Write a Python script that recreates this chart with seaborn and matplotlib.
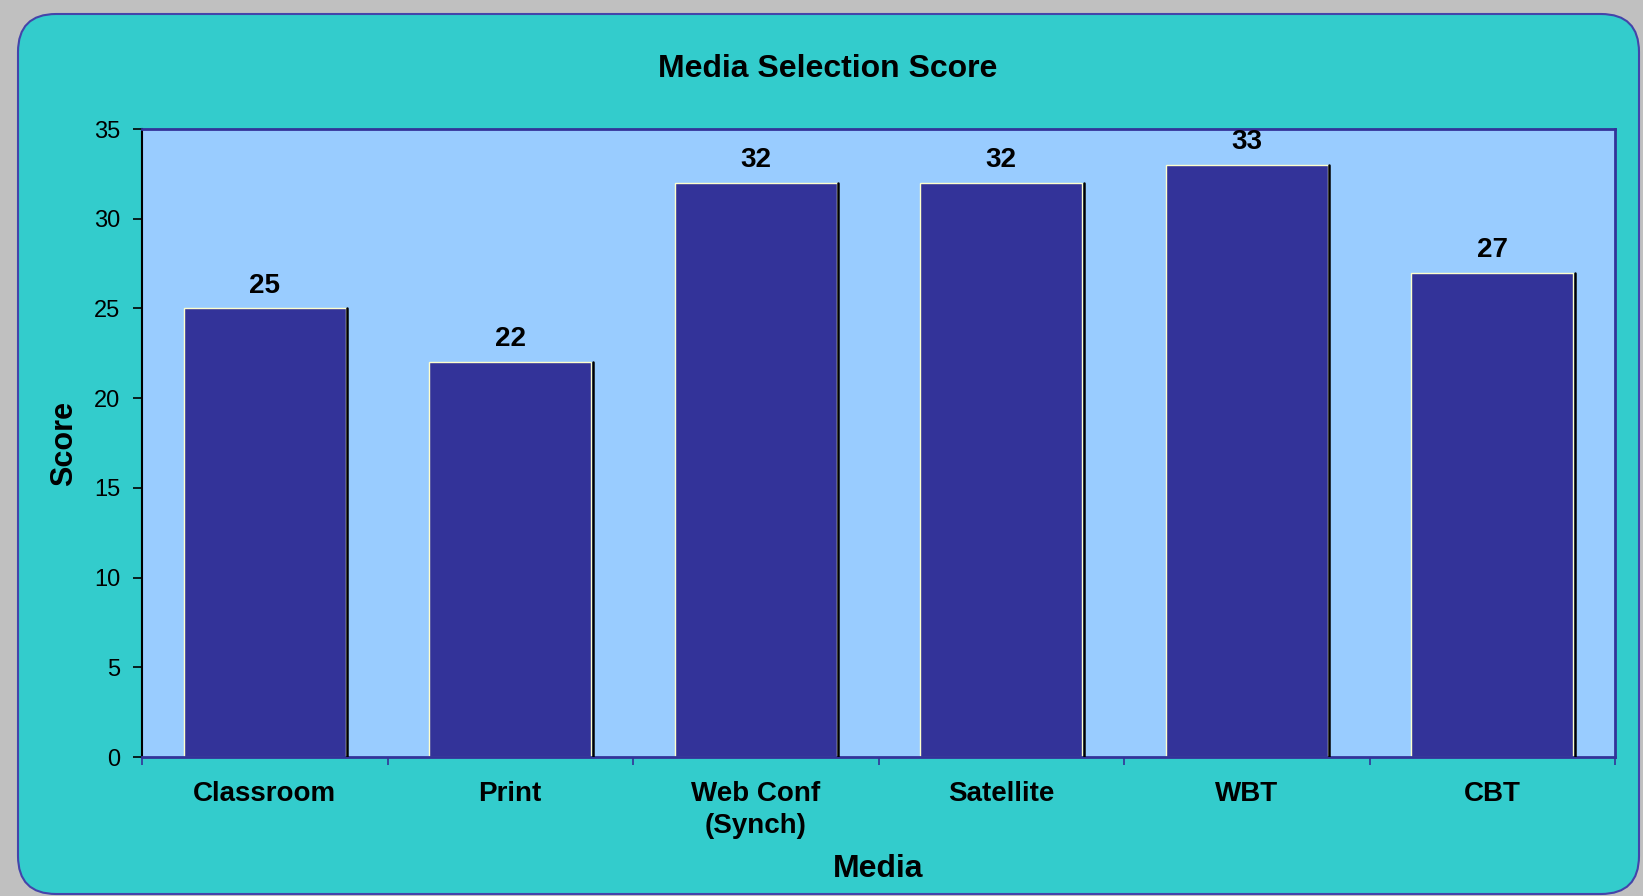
import matplotlib
matplotlib.use("Agg")
import matplotlib.pyplot as plt
import seaborn as sns
import pandas as pd
from matplotlib.patches import FancyBboxPatch

# data
media = ["Classroom", "Print", "Web Conf\n(Synch)", "Satellite", "WBT", "CBT"]
scores = [25, 22, 32, 32, 33, 27]

df = pd.DataFrame({"Media": media, "Score": scores})

sns.set_style("white")
plt.rcParams["font.family"] = ["Liberation Sans", "DejaVu Sans"]

W, H = 1643, 896
fig = plt.figure(figsize=(W / 100, H / 100), dpi=100)
fig.patch.set_facecolor("#c0c0c0")

# background axes in pixel units for the rounded teal frame
bg = fig.add_axes([0, 0, 1, 1], zorder=-1)
bg.set_xlim(0, W)
bg.set_ylim(H, 0)
bg.axis("off")
bg.add_patch(FancyBboxPatch((18, 14), 1621, 880,
                            boxstyle="round,pad=0,rounding_size=38",
                            facecolor="#33cccc", edgecolor="#4444aa", linewidth=1.5))

# plot area: x 142..1615, y 129..757 px
ax = fig.add_axes([142 / W, 1 - 757 / H, 1473 / W, 628 / H])
ax.set_facecolor("#99ccff")

sns.barplot(data=df, x="Media", y="Score", color="#333399", width=0.66,
            saturation=1, edgecolor="#ffffcc", linewidth=1.0, ax=ax)

# dark shadow on the right side of each bar
for p in ax.patches:
    x = p.get_x() + p.get_width()
    ax.plot([x + 0.007, x + 0.007], [0, p.get_height()], color="black", lw=1.8, zorder=3)

for i, v in enumerate(scores):
    ax.text(i, v + 0.55, str(v), ha="center", va="bottom", fontsize=20,
            fontweight="bold", color="black")

ax.set_ylim(0, 35)
ax.set_xlim(-0.5, len(media) - 0.5)
ax.set_yticks(range(0, 36, 5))
ax.tick_params(axis="y", labelsize=17, length=6.5, width=1.2, left=True,
               direction="out", pad=9, colors="black")
ax.set_xticks(range(len(media)))
ax.set_xticklabels(media, fontsize=20, fontweight="bold", linespacing=1.3, color="black")
ax.tick_params(axis="x", which="major", length=0, pad=17)
ax.set_xticks([i - 0.5 for i in range(len(media) + 1)], minor=True)
ax.tick_params(axis="x", which="minor", length=6, width=1.2, color="#333399", bottom=True)

fig.text(828 / W, 1 - 69 / H, "Media Selection Score", ha="center", va="center",
         fontsize=23, fontweight="bold", color="black")
ax.set_xlabel("Media", fontsize=23, fontweight="bold", color="black")
ax.xaxis.set_label_coords(0.5, -0.155)
ax.set_ylabel("Score", fontsize=22, fontweight="bold", color="black")
ax.yaxis.set_label_coords(-0.043, 0.5)

for side in ["top", "right", "bottom"]:
    ax.spines[side].set_color("#333399")
    ax.spines[side].set_linewidth(2)
ax.spines["left"].set_color("black")
ax.spines["left"].set_linewidth(1.5)

fig.savefig("out.png", dpi=100, facecolor=fig.get_facecolor())
